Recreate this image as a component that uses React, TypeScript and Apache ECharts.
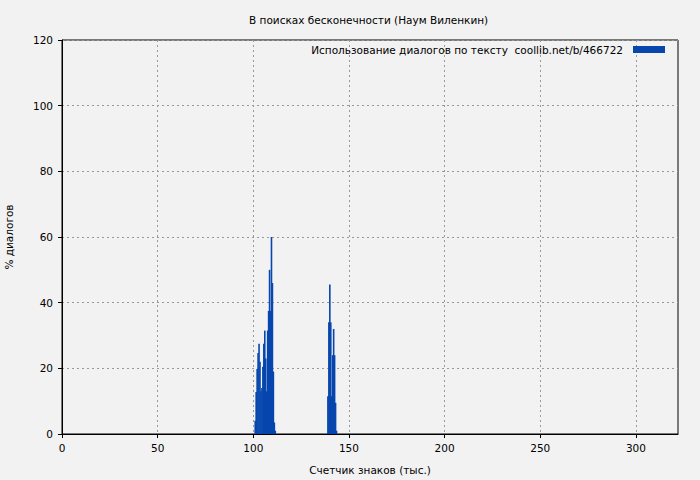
import React, { useEffect, useRef } from "react";
import * as echarts from "echarts";

const title = "В поисках бесконечности (Наум Виленкин)";
const seriesName = "Использование диалогов по тексту  coollib.net/b/466722";
const xAxisName = "Счетчик знаков (тыс.)";
const yAxisName = "% диалогов";

// cluster 1 positions (thousand chars) and values (%)
const xs1 = [101, 101.5, 102, 102.5, 103, 103.5, 104, 104.5, 105, 105.5, 106, 106.5, 107, 107.5, 108, 108.5, 109, 109.5, 110, 110.5, 111, 111.5];
const ys1 = [4, 12.8, 19.8, 24.7, 27.5, 22, 13, 14, 20.5, 27.5, 31.5, 23, 13, 31.5, 37.5, 50, 37.5, 60, 46, 19, 3.5, 1];
// cluster 2
const xs2 = [139, 139.5, 140, 140.5, 141, 141.5, 142, 142.5, 143, 143.5];
const ys2 = [11.5, 34, 45.5, 34, 11.5, 24, 32, 24, 9.5, 1];

const xTicks = [0, 50, 100, 150, 200, 250, 300];

export default function App() {
  const ref = useRef<HTMLDivElement>(null);
  useEffect(() => {
    const chart = echarts.init(ref.current!, null, { renderer: "svg" });
    const data = [
      ...xs1.map((x, i) => [x, ys1[i]]),
      ...xs2.map((x, i) => [x, ys2[i]]),
    ];
    const font = "DejaVu Sans";
    const fs = 10.5;
    chart.setOption({
      animation: false,
      backgroundColor: "#f2f2f2",
      textStyle: { fontFamily: font },
      title: {
        text: title,
        left: 244,
        top: 9,
        textStyle: { fontSize: fs, fontWeight: "normal", color: "#000", fontFamily: font },
      },
      legend: {
        right: 30,
        top: 39,
        align: "right",
        itemWidth: 32,
        itemHeight: 7,
        icon: "rect",
        textStyle: { fontSize: fs, color: "#000", fontFamily: font, padding: [0, 5, 0, 0] },
        data: [seriesName],
      },
      grid: {
        left: 62,
        right: 22,
        top: 40,
        bottom: 46,
        show: true,
        borderColor: "#000",
        borderWidth: 1,
        backgroundColor: "transparent",
        outerBoundsMode: "none",
        containLabel: false,
      },
      xAxis: {
        type: "value",
        min: 0,
        max: 322,
        interval: 50,
        name: xAxisName,
        nameLocation: "middle",
        nameGap: 30,
        nameTextStyle: { fontSize: fs, color: "#000", fontFamily: font },
        axisLine: { show: true, lineStyle: { color: "#000" } },
        axisTick: { show: true, length: 4, lineStyle: { color: "#000" }, customValues: xTicks },
        axisLabel: {
          fontSize: fs,
          color: "#000",
          fontFamily: font,
          margin: 8,
          customValues: xTicks,
          formatter: (v: number) => (xTicks.includes(v) ? String(v) : ""),
        },
        splitLine: { show: true, lineStyle: { color: "#999", type: [2, 3] } },
      },
      yAxis: {
        type: "value",
        min: 0,
        max: 120,
        interval: 20,
        name: yAxisName,
        nameLocation: "middle",
        nameGap: 48,
        nameTextStyle: { fontSize: fs, color: "#000", fontFamily: font },
        axisLine: { show: true, lineStyle: { color: "#000" } },
        axisTick: { show: true, length: 4, lineStyle: { color: "#000" } },
        axisLabel: { fontSize: fs, color: "#000", fontFamily: font, margin: 9 },
        splitLine: { show: true, lineStyle: { color: "#999", type: [2, 3] } },
      },
      series: [
        {
          name: seriesName,
          type: "bar",
          data,
          barWidth: 1.6,
          itemStyle: { color: "#0646ad" },
        },
      ],
    });
    return () => chart.dispose();
  }, []);
  return <div ref={ref} style={{ width: 700, height: 480, position: "fixed", left: 0, top: 0 }} />;
}
